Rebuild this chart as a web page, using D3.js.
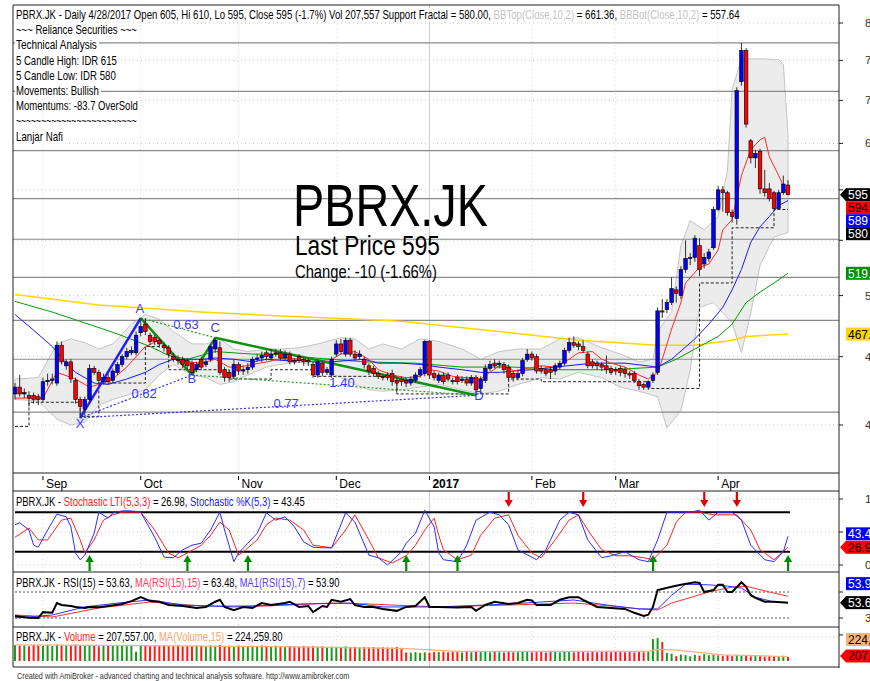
<!DOCTYPE html>
<html>
<head>
<meta charset="utf-8">
<script src="https://cdn.jsdelivr.net/npm/d3@7"></script>
<style>
body { margin: 0; background: #fff; }
svg { display: block; font-family: "Liberation Sans Narrow", "Arial Narrow", "Liberation Sans", Arial, sans-serif; }
text { white-space: pre; }
</style>
</head>
<body>
<svg id="chart" width="870" height="681"></svg>
<script>
// PBRX.JK daily, late Aug 2016 .. 28 Apr 2017 (one entry per trading bar)
const open = [
  422,427,422,421,421,420,418,431,432,430, 459,443,446,432,418,411,418,441,438,431,
  434,432,438,444,450,453,453,469,476,467, 465,463,459,457,450,448,448,447,445,440,
  448,444,448,456,457,440,438,435,444,439, 440,442,448,449,453,449,452,453,449,452,
  447,450,448,447,444,436,445,438,436,452, 460,452,463,452,450,448,443,441,437,435,
  436,437,432,433,432,430,432,436,437,462, 437,432,436,436,432,434,432,433,430,434,
  426,432,441,445,444,444,442,437,434,437, 448,452,450,441,440,440,439,442,445,455,
  461,460,458,452,446,445,444,443,441,440, 441,440,437,437,431,429,427,432,438,487,
  488,494,505,500,523,533,534,545,528,533, 543,580,600,597,577,571,723,763,653,634,
  641,601,601,597,581,597,605];
const high = [
  430,436,426,424,423,422,434,437,437,462, 462,448,448,434,420,420,444,443,440,437,
  437,441,446,452,457,458,470,481,481,469, 467,465,461,459,453,451,450,449,447,446,
  450,448,460,465,462,442,440,448,446,443, 445,450,452,454,455,456,456,456,455,454,
  449,452,450,449,446,448,447,442,450,463, 464,465,465,455,455,450,445,443,439,437,
  438,440,435,435,434,435,438,442,463,463, 439,438,438,438,434,436,435,435,436,436,
  435,444,447,448,447,446,444,439,440,449, 456,454,452,443,442,442,445,447,457,465,
  466,462,463,454,448,447,446,451,443,442, 443,442,439,439,433,430,432,438,490,497,
  497,516,508,526,550,538,555,552,538,542, 583,604,604,599,580,716,773,766,655,643,
  644,621,607,599,600,615,610];
const low = [
  418,420,419,413,415,414,416,428,429,428, 444,440,430,415,405,407,416,436,430,429,
  429,430,436,442,448,451,451,466,467,459, 459,457,454,450,446,444,441,440,436,438,
  440,442,446,453,436,431,431,433,436,436, 437,440,446,446,447,447,450,447,447,444,
  444,445,443,443,434,434,435,436,434,450, 452,450,450,447,448,441,436,435,433,432,
  432,428,423,428,427,428,430,434,435,433, 432,430,429,431,429,429,430,428,428,421,
  422,430,439,441,441,437,431,431,432,435, 446,447,437,437,435,433,436,440,443,453,
  457,455,453,441,441,440,439,437,436,436, 435,434,433,430,425,425,425,430,436,481,
  485,492,494,497,520,527,530,517,524,530, 541,578,578,574,567,565,718,668,628,623,
  596,593,588,580,580,595,595];
const close = [
  427,422,423,419,418,418,431,432,433,459, 446,446,433,418,413,418,441,438,432,434,
  431,439,444,450,454,455,467,474,470,462, 462,460,457,452,448,447,444,443,438,444,
  442,446,458,463,438,434,434,444,439,440, 442,448,449,451,450,452,453,449,452,446,
  446,447,446,446,436,446,438,440,448,460, 454,463,452,449,452,444,439,437,435,434,
  434,431,430,431,430,433,436,440,462,436, 434,436,431,433,431,431,433,430,434,425,
  433,441,444,443,445,440,434,434,437,447, 452,449,439,439,437,438,443,445,455,461,
  459,458,455,443,443,443,442,440,438,439, 438,437,436,432,428,427,431,436,487,486,
  494,506,502,523,533,534,552,523,534,539, 580,600,597,577,573,712,763,672,634,639,
  601,597,591,581,597,606,595];
// volume in thousands of shares
const volume = [
  820,790,810,760,830,800,780,840,770,860, 830,790,800,850,810,780,820,790,760,800,
  780,820,790,810,770,800,480,790,810,760, 800,780,810,770,790,820,760,800,780,810,
  790,760,800,780,820,770,790,760,800,780, 770,790,760,800,780,750,790,770,760,780,
  760,740,780,750,770,740,760,730,750,740, 730,760,720,740,710,730,700,720,690,710,
  700,690,720,680,440,430,460,420,450,430, 470,460,480,450,470,460,440,470,450,480,
  460,470,450,480,460,440,470,450,460,480, 470,450,460,470,440,460,480,450,470,460,
  450,470,460,440,470,450,460,480,450,470, 460,450,470,440,460,450,470,1130,1180,980,
  420,380,250,330,300,240,320,280,350,300, 330,290,270,310,250,300,280,260,240,270,
  250,230,260,240,250,270,207.557];

// month ticks: label and bar index
const monthLabels = ['Sep', 'Oct', 'Nov', 'Dec', '2017', 'Feb', 'Mar', 'Apr'];
const monthBars = [6, 27, 48, 69, 89, 111, 129, 151];
const priceTicks = [400, 450, 500, 550, 600, 650, 700, 750, 800];
const levelLines = [773, 711, 642, 591, 551, 516, 479, 448, 409];

// indicator lines: [bar, value]
const maRed = [[0,419],[6,419],[9,438],[13,433],[16,427],[18,429],[21,433],[24,442],[28,458],[31,463],[34,450],[37,446],[40,445],[43,448],[46,442],[48,442],[51,444],[54,446],[58,449],[61,448],[64,446],[68,448],[70,452],[73,454],[76,448],[78,440],[81,436],[84,434],[87,435],[89,440],[91,439],[94,435],[97,434],[100,433],[102,438],[104,443],[106,443],[107,439],[110,441],[113,443],[116,442],[119,448],[121,453],[124,454],[126,448],[128,445],[131,442],[134,436],[136,433],[138,438],[139,448],[141,472],[143,494],[144,511],[147,525],[149,528],[151,541],[152,560],[154,570],[156,615],[158,643],[160,654],[161,657],[162,635],[164,615],[165,604],[166,594.2]];
const maBlue = [[0,484],[4,471],[8,458],[10,449],[13,438],[17,430],[20,429],[24,433],[28,438],[31,444],[34,448],[37,448],[40,448],[43,449],[47,448],[51,446],[54,448],[58,447],[61,447],[64,446],[68,446],[75,448],[78,445],[83,445],[87,444],[91,442],[96,440],[100,438],[104,438],[107,439],[111,440],[116,442],[124,445],[131,445],[138,442],[141,448],[146,464],[149,476],[152,490],[154,505],[156,523],[158,548],[160,563],[162,573],[164,584],[166,589]];
const maGreen = [[0,495],[8,486],[15,477],[22,468],[29,458],[33,451],[37,448],[43,454],[51,452],[58,452],[61,450],[68,448],[75,446],[86,445],[96,442],[107,442],[117,440],[128,440],[138,442],[142,448],[147,458],[151,466],[154,476],[157,494],[160,503],[163,511],[166,519.6]];
const maYellow = [[0,501],[18,492],[40,486],[61,482],[80,479],[84,478],[121,463],[138,459],[146,459],[154,463],[157,466],[166,467.9]];
const bbTop = [[0,433],[5,434],[9,460],[12,464],[15,461],[18,456],[21,460],[25,476],[28,484],[31,480],[34,470],[38,460],[41,460],[44,464],[47,456],[50,454],[54,456],[57,456],[61,457],[65,460],[70,465],[73,464],[76,456],[79,460],[83,456],[87,464],[91,462],[96,456],[100,448],[104,454],[108,456],[113,456],[117,464],[121,465],[126,457],[130,452],[134,446],[137,448],[138,470],[141,486],[143,545],[145,569],[148,560],[151,573],[153,621],[154,713],[156,752],[160,752],[164,751],[165,745],[166,661.36]];
const bbBot = [[0,418],[5,417],[9,404],[12,400],[15,402],[18,414],[21,418],[25,422],[28,425],[31,436],[34,444],[38,436],[41,434],[44,429],[47,431],[50,436],[54,442],[57,444],[61,446],[65,442],[70,434],[73,429],[76,425],[79,424],[83,425],[87,427],[91,429],[96,425],[100,422],[104,424],[108,429],[113,434],[117,433],[121,438],[126,434],[130,427],[134,424],[136,422],[138,420],[140,398],[143,410],[145,440],[147,490],[150,494],[154,477],[156,453],[158,485],[160,527],[163,553],[166,557.64]];
const fractal = [[0,399],[3,416],[14,406],[18,430],[28,458],[33,440],[46,433],[55,440],[64,435],[82,422],[106,433],[113,431],[136,426],[147,511],[154,562],[163,580],[166,580]];

// harmonic pattern pivots (bar index, price) and ratio legs
const pivotNames = ['X', 'A', 'B', 'C', 'D'];
const pivotBars = [14, 27, 38, 43, 99];
const pivotPrices = [405, 481, 436, 465, 421];
const ratioLegs = [['A', 'C', '0.63'], ['X', 'B', '0.62'], ['B', 'D', '1.40'], ['X', 'D', '0.77']];

const stochK = [[0,61],[1,64],[3,53],[4,30],[5,27],[7,53],[9,77],[11,73],[12,58],[13,18],[14,8],[15,15],[17,48],[18,80],[20,71],[21,79],[23,82],[25,82],[27,80],[30,42],[32,12],[34,11],[36,23],[38,30],[40,33],[42,53],[44,80],[45,53],[47,5],[48,18],[50,33],[52,48],[54,79],[56,68],[58,73],[60,58],[62,35],[64,27],[66,26],[68,26],[71,79],[73,65],[76,15],[78,11],[80,0],[83,20],[84,33],[86,48],[88,83],[90,58],[91,18],[92,8],[95,5],[97,30],[99,68],[102,80],[104,76],[106,61],[108,23],[112,8],[114,23],[117,68],[119,80],[121,76],[123,38],[126,11],[128,14],[131,20],[134,8],[136,5],[138,38],[140,80],[143,80],[145,80],[147,83],[149,68],[151,80],[154,80],[156,68],[158,30],[161,8],[163,5],[165,20],[166,43.45]];
const stochD = [[0,42],[3,56],[5,38],[7,38],[10,68],[12,71],[14,38],[15,18],[17,38],[19,68],[21,76],[23,80],[27,80],[30,53],[33,18],[35,11],[37,18],[40,30],[42,45],[44,65],[46,53],[48,15],[49,20],[52,38],[54,61],[56,71],[59,68],[62,53],[64,30],[68,26],[71,53],[73,76],[76,38],[78,11],[81,3],[84,14],[86,30],[88,53],[90,71],[91,45],[92,23],[95,8],[98,15],[100,45],[103,71],[106,76],[108,45],[111,18],[113,11],[116,38],[119,68],[121,76],[123,53],[126,23],[129,14],[132,14],[135,11],[137,8],[140,30],[142,65],[144,80],[147,80],[150,76],[152,76],[155,76],[158,53],[160,23],[163,8],[166,26.98]];
const buyBars = [16, 37, 50, 84, 95, 137, 166];
const sellBars = [106, 122, 148, 155];

const rsi = [[0,33],[3,30.5],[5,30],[6,39],[8,38],[9,53],[10,50],[12,48.5],[13,47],[15,45.4],[16,47],[18,46.5],[20,48.5],[23,51.5],[25,56],[27,62],[29,56],[31,55],[33,50],[36,48.5],[39,45.4],[41,47],[43,55],[44,58],[45,47],[47,42],[49,47],[51,45.4],[53,53],[55,50],[58,53],[59,55],[61,47],[63,48.5],[64,39],[66,48.5],[67,47],[68,58],[70,55],[72,59],[73,50],[75,47],[77,47],[79,44],[82,41],[84,47],[86,48.5],[88,62],[89,47],[91,47],[95,46],[98,47],[99,41],[101,50],[103,55],[106,51.5],[108,53],[110,58],[111,57],[112,50],[115,50],[117,58],[119,62],[121,62],[122,58],[125,47],[128,45.4],[131,44],[133,38],[135,33],[136,35],[137,47],[138,73],[141,78],[143,81],[146,85],[147,84],[148,70],[150,73],[151,81],[152,81],[153,70],[154,70],[156,85],[157,78],[158,65],[159,61],[161,55],[163,55],[166,53.63]];
const rsiMA = [[0,34.6],[8,31.5],[18,45.4],[29,54.6],[40,48.5],[54,48.5],[68,53],[76,51.5],[91,47],[106,50],[120,53],[128,48.5],[134,44],[138,42.3],[141,53],[149,70],[154,77.7],[157,79],[162,70],[166,63.48]];
const rsiMA1 = [[0,30],[8,34.6],[15,47],[22,53],[29,57.7],[36,50],[47,47],[61,51.5],[72,53],[79,47],[91,47],[106,51.5],[120,57.7],[127,50],[134,44],[138,44],[141,65],[144,82],[149,81],[153,79],[156,76],[159,62],[163,54.6],[166,53.9]];
const volMA = [[0,829],[28,800],[60,730],[84,640],[95,500],[136,500],[138,600],[142,560],[152,320],[159,280],[166,224.2598]];

// ---------- layout ----------
const L = 13, R = 839;
const main = { top: 5, bottom: 473 };
const stoch = { top: 491, bottom: 572 };
const rsiP = { top: 572, bottom: 627 };
const volP = { top: 627, bottom: 667 };

const svg = d3.select('#chart');
svg.append('rect').attr('width', 870).attr('height', 681).attr('fill', '#fff');
const defs = svg.append('defs');
function clip(id, p) {
    defs.append('clipPath').attr('id', id).append('rect')
        .attr('x', L).attr('y', p.top).attr('width', R - L).attr('height', p.bottom - p.top);
    return svg.append('g').attr('clip-path', `url(#${id})`);
}

const x = d3.scaleLinear().domain([0, 166]).range([15, 788]);
const yP = d3.scaleLog().domain([400, 800]).range([425, 23]);
const yS = d3.scaleLinear().domain([0, 100]).range([565, 499]);
const yR = d3.scaleLinear().domain([30, 70]).range([618, 592]);
const yV = d3.scaleLinear().domain([0, 1200]).range([661, 637.8]);

const gMain = clip('cm', main);
const gSto = clip('cs', stoch);
const gRsi = clip('cr', rsiP);
const gVol = clip('cv', volP);

// month grid in every pane
[[gMain, main], [gSto, stoch], [gRsi, rsiP], [gVol, volP]].forEach(([g, p]) => {
    monthBars.forEach((b, k) => {
        g.append('line')
            .attr('x1', x(b)).attr('x2', x(b)).attr('y1', p.top).attr('y2', p.bottom)
            .attr('stroke', monthLabels[k] === '2017' ? '#c8c8f4' : '#d4d4d4')
            .attr('stroke-dasharray', monthLabels[k] === '2017' ? null : '1,3');
    });
});

// price grid
priceTicks.forEach(v => {
    gMain.append('line').attr('x1', L).attr('x2', R).attr('y1', yP(v)).attr('y2', yP(v))
        .attr('stroke', '#c8c8c8').attr('stroke-dasharray', '1,3');
});

// Bollinger band
const pt = d3.line();
const bandPts = bbTop.map(d => [x(d[0]), yP(d[1])])
    .concat(bbBot.slice().reverse().map(d => [x(d[0]), yP(d[1])]));
gMain.append('path').attr('d', pt(bandPts) + 'Z')
    .attr('fill', '#ececec').attr('stroke', '#c4c4c4').attr('stroke-width', 1);

// support / resistance levels
levelLines.forEach(v => {
    gMain.append('line').attr('x1', L).attr('x2', R).attr('y1', yP(v)).attr('y2', yP(v))
        .attr('stroke', '#8a8a8a').attr('stroke-width', 1.2);
});

const lineP = d3.line().x(d => x(d[0])).y(d => yP(d[1]));
[[maYellow, '#ffd400', 1.5], [maGreen, '#00a000', 1], [maBlue, '#1a1aff', 1], [maRed, '#ff2a2a', 1]]
    .forEach(([data, c, w]) => {
        gMain.append('path').datum(data).attr('d', lineP)
            .attr('fill', 'none').attr('stroke', c).attr('stroke-width', w);
    });

// support fractal
gMain.append('path').datum(fractal)
    .attr('d', d3.line().x(d => x(d[0])).y(d => yP(d[1])).curve(d3.curveStepAfter))
    .attr('fill', 'none').attr('stroke', '#222').attr('stroke-width', 1).attr('stroke-dasharray', '3,2');

// harmonic pattern
const piv = {};
pivotNames.forEach((n, k) => { piv[n] = [x(pivotBars[k]), yP(pivotPrices[k])]; });
ratioLegs.forEach(([a, b]) => {
    const blue = a === 'X';
    gMain.append('line')
        .attr('x1', piv[a][0]).attr('y1', piv[a][1]).attr('x2', piv[b][0]).attr('y2', piv[b][1])
        .attr('stroke', blue ? '#3030ff' : '#20a020').attr('stroke-width', 1.2)
        .attr('stroke-dasharray', '2,2');
});
[['X', 'A', '#1e1eff'], ['A', 'B', '#109010'], ['B', 'C', '#109010'], ['C', 'D', '#109010']]
    .forEach(([a, b, c]) => {
        gMain.append('line')
            .attr('x1', piv[a][0]).attr('y1', piv[a][1]).attr('x2', piv[b][0]).attr('y2', piv[b][1])
            .attr('stroke', c).attr('stroke-width', 2.5);
    });

// candles
const candles = gMain.append('g');
close.forEach((c, i) => {
    const up = c >= open[i];
    const cx = x(i);
    candles.append('line').attr('x1', cx).attr('x2', cx)
        .attr('y1', yP(high[i])).attr('y2', yP(low[i]))
        .attr('stroke', '#333').attr('stroke-width', 1);
    const yTop = yP(Math.max(c, open[i])), yBot = yP(Math.min(c, open[i]));
    candles.append('rect').attr('x', cx - 1.8).attr('y', yTop)
        .attr('width', 3.6).attr('height', Math.max(1, yBot - yTop))
        .attr('fill', up ? '#0000ff' : '#ff0000')
        .attr('stroke', '#000').attr('stroke-width', 0.6);
});

// pattern labels
const pOff = { X: [0, 7], A: [-1, -8], B: [0, 5], C: [0, -9], D: [3, 1] };
pivotNames.forEach(n => {
    gMain.append('text').attr('x', piv[n][0] + pOff[n][0]).attr('y', piv[n][1] + pOff[n][1])
        .attr('text-anchor', 'middle').attr('dominant-baseline', 'middle')
        .attr('font-size', 13).attr('fill', '#3a3aff').text(n);
});
ratioLegs.forEach(([a, b, txt]) => {
    gMain.append('text')
        .attr('x', (piv[a][0] + piv[b][0]) / 2 + 8).attr('y', (piv[a][1] + piv[b][1]) / 2 - 2)
        .attr('text-anchor', 'middle').attr('dominant-baseline', 'middle')
        .attr('font-size', 13).attr('fill', '#3a3aff').text(txt);
});

// text squeezed horizontally to a given width (the source uses a narrow face)
function fitText(g, tx, ty, parts, size, len, bg) {
    if (bg) g.append('rect').attr('x', tx - 1).attr('y', ty - size + 1)
        .attr('width', len + 3).attr('height', size + 2).attr('fill', '#fff');
    const t = g.append('text').attr('x', tx).attr('y', ty).attr('font-size', size);
    parts.forEach(([s, c]) => t.append('tspan').attr('fill', c).text(s));
    const natural = t.node().getComputedTextLength();
    if (natural > 0) {
        const k = len / natural;
        t.attr('transform', `translate(${tx},0) scale(${k},1) translate(${-tx},0)`);
    }
    return t;
}

const K = '#000', GR = '#c4c4c4';
fitText(gMain, 16, 19, [
    ['PBRX.JK - Daily 4/28/2017 Open 605, Hi 610, Lo 595, Close 595 (-1.7%) Vol 207,557 Support Fractal = 580.00, ', K],
    ['BBTop(Close,10,2)', GR], [' = 661.36, ', K], ['BBBot(Close,10,2)', GR], [' = 557.64', K]], 12, 724, true);
const infoLines = ['~~~ Reliance Securities ~~~', 'Technical Analysis', '5 Candle High: IDR 615',
    '5 Candle Low: IDR 580', 'Movements: Bullish', 'Momentums: -83.7 OverSold',
    '~~~~~~~~~~~~~~~~~~~~~~~~', 'Lanjar Nafi'];
const infoWidths = [121, 81, 101, 100, 83, 122, 121, 47];
const infoBase = [34, 49, 65, 80, 95, 110, 125, 141];
infoLines.forEach((s, k) => fitText(gMain, 16, infoBase[k], [[s, K]], 12, infoWidths[k], true));

// big title block
fitText(svg, 293, 226, [['PBRX.JK', K]], 60, 195, false);
fitText(svg, 295, 255, [['Last Price 595', K]], 27, 145, false);
fitText(svg, 295, 278, [['Change: -10 (-1.66%)', K]], 19, 142, false);

// x axis labels
monthBars.forEach((b, k) => {
    svg.append('line').attr('x1', x(b)).attr('x2', x(b)).attr('y1', 476).attr('y2', 480)
        .attr('stroke', '#000');
    svg.append('text').attr('x', x(b) + 3).attr('y', 488).attr('font-size', 12)
        .attr('font-weight', monthLabels[k] === '2017' ? 'bold' : null).text(monthLabels[k]);
});

// ---------- stochastic pane ----------
[0, 50, 100].forEach(v => gSto.append('line').attr('x1', L).attr('x2', R)
    .attr('y1', yS(v)).attr('y2', yS(v)).attr('stroke', '#c8c8c8').attr('stroke-dasharray', '1,3'));
[80, 20].forEach(v => gSto.append('line').attr('x1', x(0)).attr('x2', x(166) + 2)
    .attr('y1', yS(v)).attr('y2', yS(v)).attr('stroke', '#000').attr('stroke-width', 2));
const lineS = d3.line().x(d => x(d[0])).y(d => yS(d[1]));
gSto.append('path').datum(stochD).attr('d', lineS).attr('fill', 'none').attr('stroke', '#ff2020').attr('stroke-width', 1);
gSto.append('path').datum(stochK).attr('d', lineS).attr('fill', 'none').attr('stroke', '#2a2aff').attr('stroke-width', 1);
buyBars.forEach(b => {
    const cx = x(b);
    gSto.append('rect').attr('x', cx - 1).attr('y', 561).attr('width', 2.2).attr('height', 10).attr('fill', '#008a00');
    gSto.append('path').attr('d', `M${cx - 4},562 L${cx + 4.2},562 L${cx + 0.1},555 Z`).attr('fill', '#008a00');
});
sellBars.forEach(b => {
    const cx = x(b);
    gSto.append('rect').attr('x', cx - 1).attr('y', 492).attr('width', 2.2).attr('height', 9).attr('fill', '#e00000');
    gSto.append('path').attr('d', `M${cx - 4},500 L${cx + 4.2},500 L${cx + 0.1},507 Z`).attr('fill', '#e00000');
});
fitText(gSto, 16, 506, [['PBRX.JK - ', K], ['Stochastic LTI(5,3,3)', '#ff1a1a'], [' = 26.98, ', K],
    ['Stochastic %K(5,3)', '#2020ff'], [' = 43.45', K]], 12, 289, true);

// ---------- RSI pane ----------
[70, 30].forEach(v => gRsi.append('line').attr('x1', x(0)).attr('x2', x(166) + 2)
    .attr('y1', yR(v)).attr('y2', yR(v)).attr('stroke', '#555').attr('stroke-dasharray', '2,2'));
const lineR = d3.line().x(d => x(d[0])).y(d => yR(d[1]));
gRsi.append('path').datum(rsiMA).attr('d', lineR).attr('fill', 'none').attr('stroke', '#ff3030').attr('stroke-width', 1);
gRsi.append('path').datum(rsiMA1).attr('d', lineR).attr('fill', 'none').attr('stroke', '#3030ff').attr('stroke-width', 1);
gRsi.append('path').datum(rsi).attr('d', lineR).attr('fill', 'none').attr('stroke', '#000').attr('stroke-width', 2);
fitText(gRsi, 16, 587, [['PBRX.JK - RSI(15) = 53.63, ', K], ['MA(RSI(15),15)', '#ff3a5a'], [' = 63.48, ', K],
    ['MA1(RSI(15),7)', '#5a3aff'], [' = 53.90', K]], 12, 324, true);

// ---------- volume pane ----------
gVol.append('line').attr('x1', L).attr('x2', R).attr('y1', 637).attr('y2', 637)
    .attr('stroke', '#c8c8c8').attr('stroke-dasharray', '1,3');
volume.forEach((v, i) => {
    gVol.append('rect').attr('x', x(i) - 1).attr('y', yV(v)).attr('width', 2)
        .attr('height', yV(0) - yV(v)).attr('fill', close[i] >= open[i] ? '#1a9a1a' : '#ff1a1a');
});
gVol.append('path').datum(volMA).attr('d', d3.line().x(d => x(d[0])).y(d => yV(d[1])))
    .attr('fill', 'none').attr('stroke', '#f7b27a').attr('stroke-width', 1.2);
fitText(gVol, 16, 641, [['PBRX.JK - ', K], ['Volume', '#ff1a1a'], [' = 207,557.00, ', K],
    ['MA(Volume,15)', '#f7a56a'], [' = 224,259.80', K]], 12, 267, true);

// ---------- frame ----------
const frame = svg.append('g').attr('stroke', '#222').attr('fill', 'none');
frame.append('line').attr('x1', L).attr('x2', L).attr('y1', 5).attr('y2', 667);
frame.append('line').attr('x1', R).attr('x2', R).attr('y1', 5).attr('y2', 668);
[5, 473, 491, 572, 627, 667].forEach(yy => frame.append('line')
    .attr('x1', L).attr('x2', R).attr('y1', yy).attr('y2', yy)
    .attr('stroke-width', yy === 473 || yy === 491 ? 1.2 : 1));

// right axis ticks (labels run off the right edge, as in the source);
// labels that sit under a value box are not drawn, since the box hides them
function tick(yy, label) {
    svg.append('line').attr('x1', R).attr('x2', R + 4).attr('y1', yy).attr('y2', yy).attr('stroke', '#222');
    if (label) svg.append('text').attr('x', 865).attr('y', yy + 4).attr('font-size', 11.5).attr('fill', '#333').text(label);
}
priceTicks.forEach(v => tick(yP(v), v === 550 || v === 600 ? '' : String(v)));
[0, 50, 100].forEach(v => tick(yS(v), v === 50 ? '' : String(v)));
[70, 30].forEach(v => tick(yR(v), v === 70 ? '' : String(v)));
tick(yV(1350), '');

// value boxes at the right axis
function box(cy, txt, bg, fg, ptr) {
    if (ptr) svg.append('path').attr('d', `M840,${cy} L846,${cy - 6.5} L846,${cy + 6.5} Z`).attr('fill', bg);
    svg.append('rect').attr('x', 846).attr('y', cy - 6.5).attr('width', 30).attr('height', 13).attr('fill', bg);
    svg.append('text').attr('x', 848).attr('y', cy + 4.5).attr('font-size', 12).attr('fill', fg).text(txt);
}
const last = a => a[a.length - 1][1];
const mainBoxes = [
    [close[166], '#000', '#fff', true], [last(maRed), '#ff0000', '#000', false],
    [last(maBlue), '#0000ff', '#fff', false], [last(fractal), '#000', '#fff', false],
    [last(maGreen), '#009000', '#fff', false], [last(maYellow), '#ffd700', '#000', false]];
let prev = -100;
mainBoxes.forEach(([v, bg, fg, ptr]) => {
    const cy = Math.max(yP(v), prev + 13);
    prev = cy;
    box(cy, String(v), bg, fg, ptr);
});
const kY = yS(last(stochK)) - 2.5;
box(kY, String(last(stochK)), '#0000ff', '#fff', false);
box(Math.max(yS(last(stochD)), kY + 13.5), String(last(stochD)), '#ff0000', '#000', true);
const rY = yR(last(rsi));
box(rY - 19, last(rsiMA1).toFixed(2), '#0000ff', '#fff', false);
box(rY, String(last(rsi)), '#000', '#fff', true);
const vY = yV(volume[166]) - 1;
box(vY - 16.5, d3.format(',.2f')(last(volMA) * 1000), '#f7b27a', '#000', false);
box(vY, d3.format(',.2f')(volume[166] * 1000), '#ff0000', '#000', true);

// footer
fitText(svg, 17, 679, [['Created with AmiBroker - advanced charting and technical analysis software. http://www.amibroker.com', '#333']], 9, 333, false);
</script>
</body>
</html>
